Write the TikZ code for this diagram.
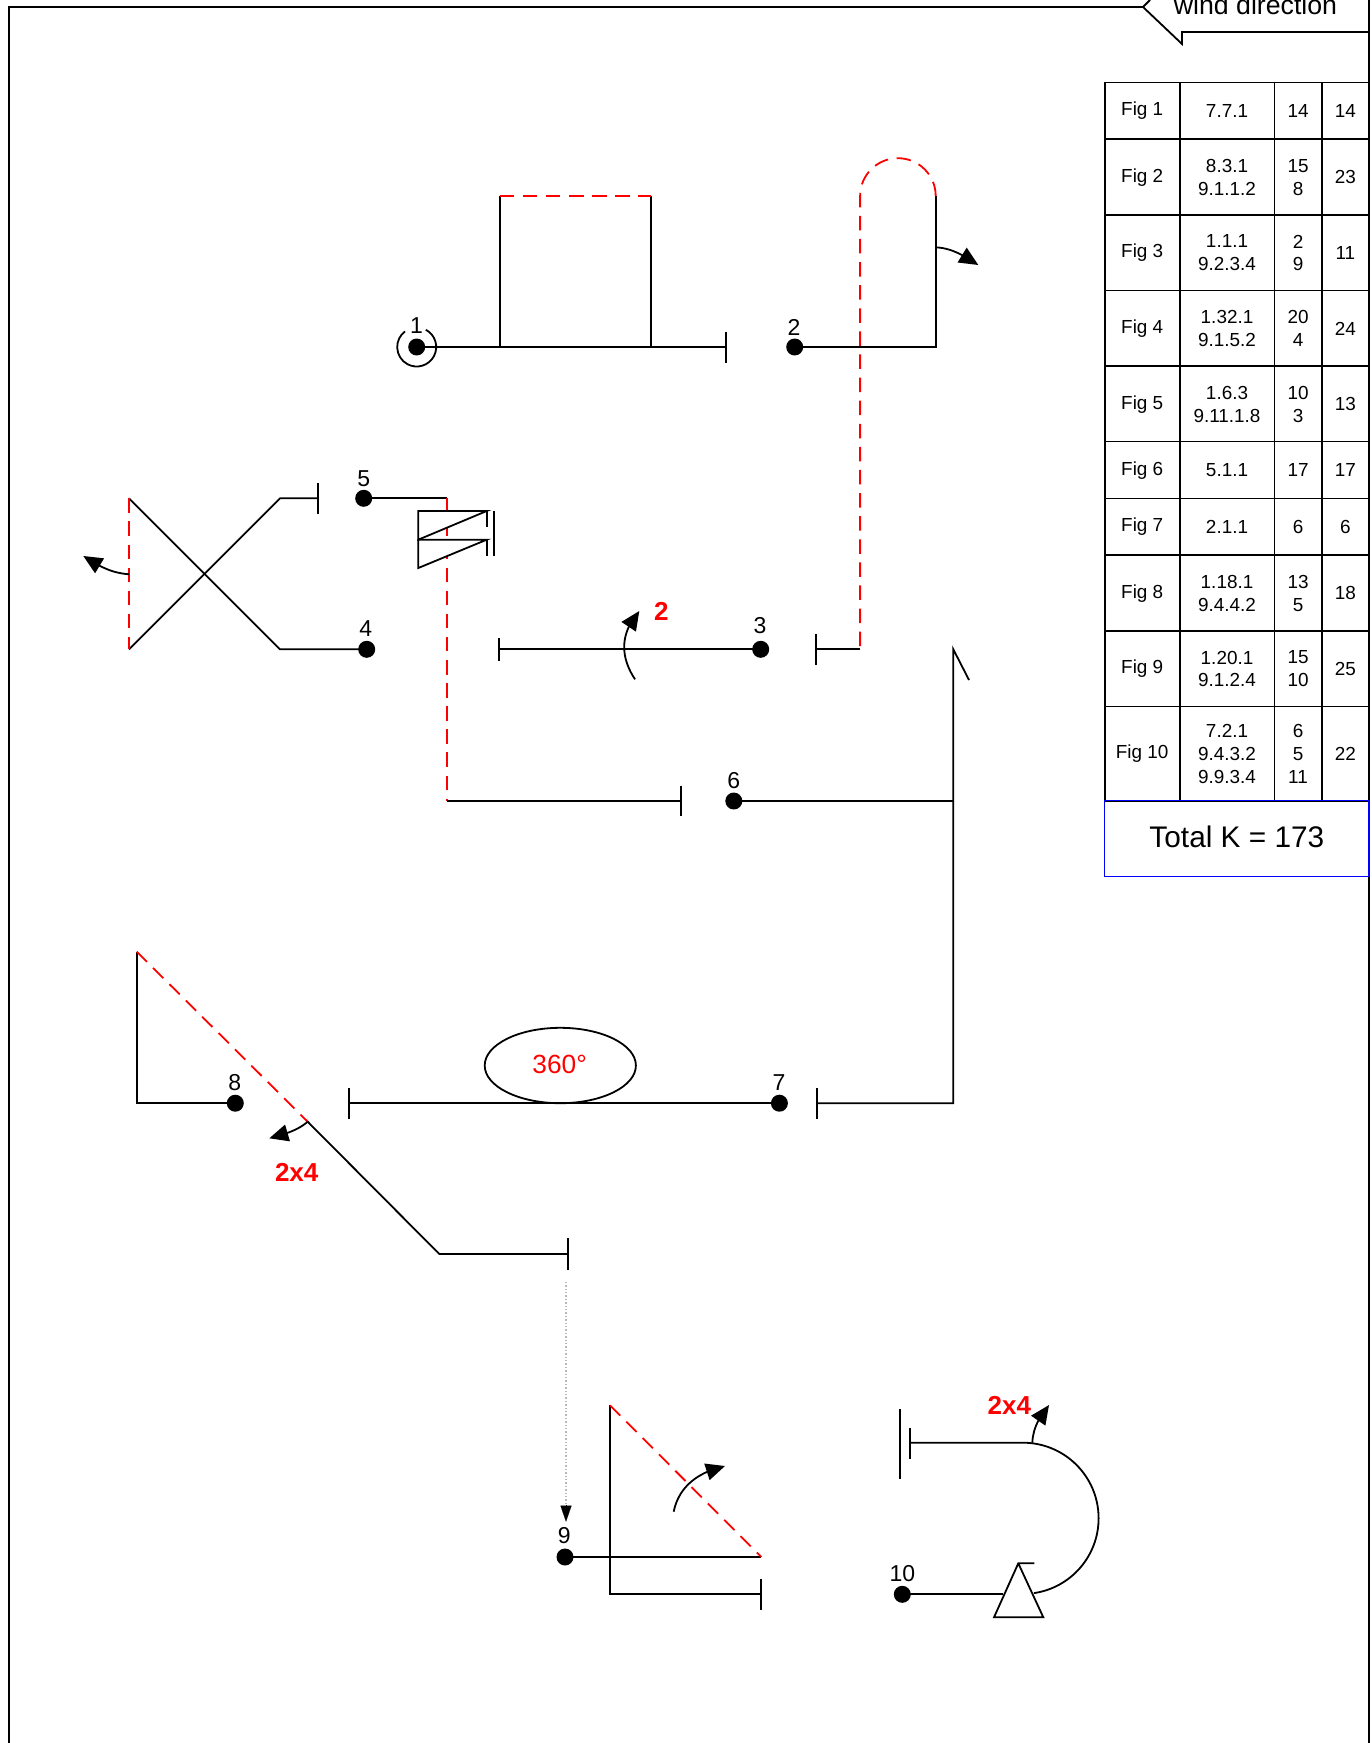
\documentclass[tikz,border=0pt]{standalone}
\usepackage{fontspec}
\setmainfont{Liberation Sans}
\usetikzlibrary{arrows.meta,bending,shapes.geometric}
\newcommand\figcell[6]{\node[cell,minimum width={(#3-#2)*1pt},minimum height={(#5-#4)*1pt}] (#1) at ({(#2+#3)/2},{(#4+#5)/2}) {};
  \node[celltext] (#1t) at ({(#2+#3)/2},{(#4+#5)/2+0.4}) {#6};}
\newcommand\figrow[7]{%
  \figcell{#1a}{1104.7}{1179.7}{#2}{#3}{#4}
  \figcell{#1b}{1179.7}{1274.3}{#2}{#3}{#5}
  \figcell{#1c}{1274.3}{1321.7}{#2}{#3}{#6}
  \figcell{#1d}{1321.7}{1369}{#2}{#3}{#7}}
\tikzset{
  wire/.style={draw=black,line width=1.8pt,line join=miter},
  redwire/.style={draw=red,line width=1.8pt,dash pattern=on 14.5pt off 8.6pt},
  turn/.style={draw=black,line width=1.8pt,-{Triangle[length=19pt,width=17pt,flex=1]}},
  pin/.style={circle,fill=black,draw=none,minimum size=17pt,inner sep=0pt,outer sep=0pt},
  num/.style={anchor=base,inner sep=0pt,text=black,font=\fontsize{23}{26}\selectfont},
  redbold/.style={anchor=base,inner sep=0pt,text=red,font=\fontsize{26}{28}\selectfont\bfseries},
  cell/.style={draw=black,line width=1.6pt,inner sep=0pt},
  celltext/.style={inner sep=0pt,align=center,font=\fontsize{18.9}{22.7}\selectfont}
}
\begin{document}
\begin{tikzpicture}[x=1pt,y=-1pt]
\useasboundingbox (0,0) rectangle (1372,1743);
% page frame and wind arrow
\coordinate (fBL) at (9,1743);
\coordinate (fTL) at (9,7);
\coordinate (wTip) at (1143,7);
\coordinate (wTop) at (1150,0);
\coordinate (wBot) at (1182,44);
\coordinate (wIn) at (1182,32);
\coordinate (wOut) at (1369,32);
\coordinate (fTR) at (1369,0);
\coordinate (fBR) at (1369,1743);
\draw[wire] (fBL) -- (fTL) -- (wTip) -- (wBot) -- (wIn) -- (wOut);
\draw[wire] (wTip) -- (wTop);
\draw[wire] (fTR) -- (fBR);
\node[anchor=base,inner sep=0pt,font=\fontsize{26.7}{28}\selectfont] (wind) at (1255.5,14.3) {wind direction};
% table
\figrow{r1}{82.3}{139}{Fig 1}{7.7.1}{14}{14}
\figrow{r2}{139}{214.7}{Fig 2}{8.3.1\\9.1.1.2}{15\\8}{23}
\figrow{r3}{214.7}{290.3}{Fig 3}{1.1.1\\9.2.3.4}{2\\9}{11}
\figrow{r4}{290.3}{366}{Fig 4}{1.32.1\\9.1.5.2}{20\\4}{24}
\figrow{r5}{366}{441.6}{Fig 5}{1.6.3\\9.11.1.8}{10\\3}{13}
\figrow{r6}{441.6}{498.3}{Fig 6}{5.1.1}{17}{17}
\figrow{r7}{498.3}{555}{Fig 7}{2.1.1}{6}{6}
\figrow{r8}{555}{630.7}{Fig 8}{1.18.1\\9.4.4.2}{13\\5}{18}
\figrow{r9}{630.7}{706.3}{Fig 9}{1.20.1\\9.1.2.4}{15\\10}{25}
\figrow{r10}{706.3}{800.7}{Fig 10}{7.2.1\\9.4.3.2\\9.9.3.4}{6\\5\\11}{22}
\node[draw=blue,line width=1.4pt,inner sep=0pt,minimum width=264.3pt,minimum height=76pt] (total) at (1236.85,838.7) {};
\node[inner sep=0pt,font=\fontsize{29.8}{32}\selectfont] (totalt) at (1236.85,836.7) {Total K = 173};
% pins
\node[pin] (p1) at (416.7,347) {};
\node[pin] (p2) at (794.7,347) {};
\node[pin] (p3) at (760.7,649.3) {};
\node[pin] (p4) at (366.7,649.3) {};
\node[pin] (p5) at (363.7,498.3) {};
\node[pin] (p6) at (733.8,801) {};
\node[pin] (p7) at (779.4,1103.2) {};
\node[pin] (p8) at (235.3,1103.2) {};
\node[pin] (p9) at (565,1557) {};
\node[pin] (p10) at (902.3,1594.3) {};
\node[num] (n1) at (416.5,333) {1};
\node[num] (n2) at (794,335) {2};
\node[num] (n3) at (760,633.3) {3};
\node[num] (n4) at (365.7,636.7) {4};
\node[num] (n5) at (363.7,486) {5};
\node[num] (n6) at (733.8,788) {6};
\node[num] (n7) at (779,1090.7) {7};
\node[num] (n8) at (234.7,1090.7) {8};
\node[num] (n9) at (564.3,1543.3) {9};
\node[num] (n10) at (902.3,1581.7) {10};
% 1
\draw[wire] (p1.center) ++(-62:19.5) arc (-62:233:19.5);
\coordinate (b1) at (499.7,347); \coordinate (b1t) at (499.7,196);
\coordinate (b2) at (651,347); \coordinate (b2t) at (651,196);
\coordinate (t1) at (726,347);
\draw[wire] (p1.center) -- (t1);
\draw[wire] (b1t) -- (b1);
\draw[wire] (b2t) -- (b2);
\draw[wire] (726,331.5) -- (726,362.5);
\draw[redwire] (b1t) -- (b2t);
% 2
\coordinate (c1) at (935.7,347); \coordinate (c2) at (935.7,196);
\coordinate (c3) at (860.1,649.3); \coordinate (t3) at (816,649.3);
\draw[wire] (p2.center) -- (c1) -- (c2);
\draw[redwire] (c2) arc (0:-180:37.8) -- (c3);
\draw[wire] (c3) -- (t3);
\draw[wire] (816,634.3) -- (816,665);
\coordinate (a2s) at (935.7,247.3); \coordinate (a2e) at (978.3,265);
\draw[turn] (a2s) .. controls (950,248) and (962,254) .. (a2e);
% 3
\coordinate (t3l) at (499,649.3);
\draw[wire] (p3.center) -- (t3l);
\draw[wire] (499,638.3) -- (499,661);
\coordinate (a3s) at (635,679.3); \coordinate (a3e) at (639.3,611);
\draw[turn] (a3s) .. controls (619,655) and (621,632) .. (a3e);
\node[redbold] (lab2) at (661.3,620) {2};
% 4, 5 crossing
\coordinate (x1) at (280,649.3); \coordinate (x2) at (129,498.3);
\coordinate (x3) at (129,649.3); \coordinate (x4) at (280,498.3);
\coordinate (t5) at (318,498.3);
\draw[wire] (p4.center) -- (x1) -- (x2);
\draw[wire] (x3) -- (x4) -- (t5);
\draw[wire] (318,483.3) -- (318,514);
\draw[redwire] (x2) -- (x3);
\coordinate (a4s) at (129,574.3); \coordinate (a4e) at (83.3,556);
\draw[turn] (a4s) .. controls (114,573) and (103,569) .. (a4e);
% 5 to 6
\coordinate (e1) at (447,498.3); \coordinate (e2) at (447,801);
\coordinate (t6) at (681,801);
\draw[wire] (p5.center) -- (e1);
\draw[redwire] (e1) -- (e2);
\draw[wire] (e2) -- (t6);
\draw[wire] (681,785.7) -- (681,816.3);
\coordinate (s1) at (418.3,511); \coordinate (s2) at (486.7,511);
\coordinate (s3) at (418.3,539.7); \coordinate (s4) at (486.7,539.7);
\coordinate (s5) at (418.3,568);
\draw[wire,fill=white] (s1) -- (s2) -- (s3) -- cycle;
\draw[wire,fill=white] (s3) -- (s4) -- (s5) -- cycle;
\draw[wire] (s2) -- (486.7,527);
\draw[wire] (s4) -- (486.7,556);
\draw[wire] (494.3,511) -- (494.3,556);
% 6 - 7
\coordinate (v1) at (953.3,649.3); \coordinate (v2) at (953.3,801); \coordinate (v3) at (953.3,1103.2);
\coordinate (h1) at (969,680); \coordinate (t7) at (817.2,1103.2);
\draw[wire] (p6.center) -- (v2);
\draw[wire] (h1) -- (v1) -- (v3) -- (t7);
\draw[wire] (817.2,1087.9) -- (817.2,1118.5);
\coordinate (t8) at (349,1103.2);
\draw[wire] (p7.center) -- (t8);
\draw[wire] (349,1088.2) -- (349,1118.8);
\node[draw=black,line width=1.8pt,ellipse,minimum width=151.2pt,minimum height=75.4pt,inner sep=0pt] (ell) at (560.3,1065.5) {};
\node[anchor=base,inner sep=0pt,text=red,font=\fontsize{26.3}{28}\selectfont] (deg) at (559.6,1073) {360°};
% 8
\coordinate (g1) at (136.7,1103.2); \coordinate (g2) at (136.7,951.6);
\coordinate (g3) at (307.7,1121.7); \coordinate (g4) at (439.3,1254); \coordinate (t9) at (568,1254);
\draw[wire] (p8.center) -- (g1) -- (g2);
\draw[redwire] (g2) -- (g3);
\draw[wire] (g3) -- (g4) -- (t9);
\draw[wire] (568,1238.3) -- (568,1270);
\coordinate (a8e) at (269.3,1138.3);
\draw[turn] (g3) .. controls (298,1130) and (286,1134) .. (a8e);
\node[redbold] (lab8) at (296.7,1181.7) {2x4};
% dotted arrow
\coordinate (q1) at (566,1281.7); \coordinate (q2) at (566,1521.7); \coordinate (q3) at (566,1505);
\draw[draw=gray!55,line width=1.4pt,dotted] (q1) -- (q3);
\draw[draw=black,line width=0.1pt,-{Triangle[length=16pt,width=11pt]}] (q3) -- (q2);
% 9
\coordinate (m1) at (761.3,1557); \coordinate (m2) at (610,1405.3);
\coordinate (m3) at (610,1594.3); \coordinate (m4) at (761.3,1594.3);
\draw[wire] (p9.center) -- (m1);
\draw[wire] (m2) -- (m3) -- (m4);
\draw[wire] (761.3,1579) -- (761.3,1610);
\draw[redwire] (m2) -- (m1);
\coordinate (a9s) at (673.7,1511.7); \coordinate (a9e) at (725,1466);
\draw[turn] (a9s) .. controls (678,1490) and (694,1473) .. (a9e);
% 10
\coordinate (k1) at (910,1442.7); \coordinate (k2) at (1023,1442.7);
\draw[wire] (k1) -- (k2) arc (-90:81.7:75.6);
\draw[wire] (910,1427.7) -- (910,1459);
\draw[wire] (900.3,1409.3) -- (900.3,1478.7);
\coordinate (k3) at (1003.3,1594.3);
\draw[wire] (p10.center) -- (k3);
\coordinate (u1) at (1018.3,1563.3); \coordinate (u2) at (994,1617.3); \coordinate (u3) at (1043.3,1617.3); \coordinate (u4) at (1034.3,1563.3);
\draw[wire] (u4) -- (u1) -- (u2) -- (u3) -- (u1);
\coordinate (a10s) at (1032.3,1442.7); \coordinate (a10e) at (1049,1405);
\draw[turn] (a10s) .. controls (1033,1430) and (1037,1420) .. (a10e);
\node[redbold] (lab10) at (1009.3,1414) {2x4};
\end{tikzpicture}
\end{document}
